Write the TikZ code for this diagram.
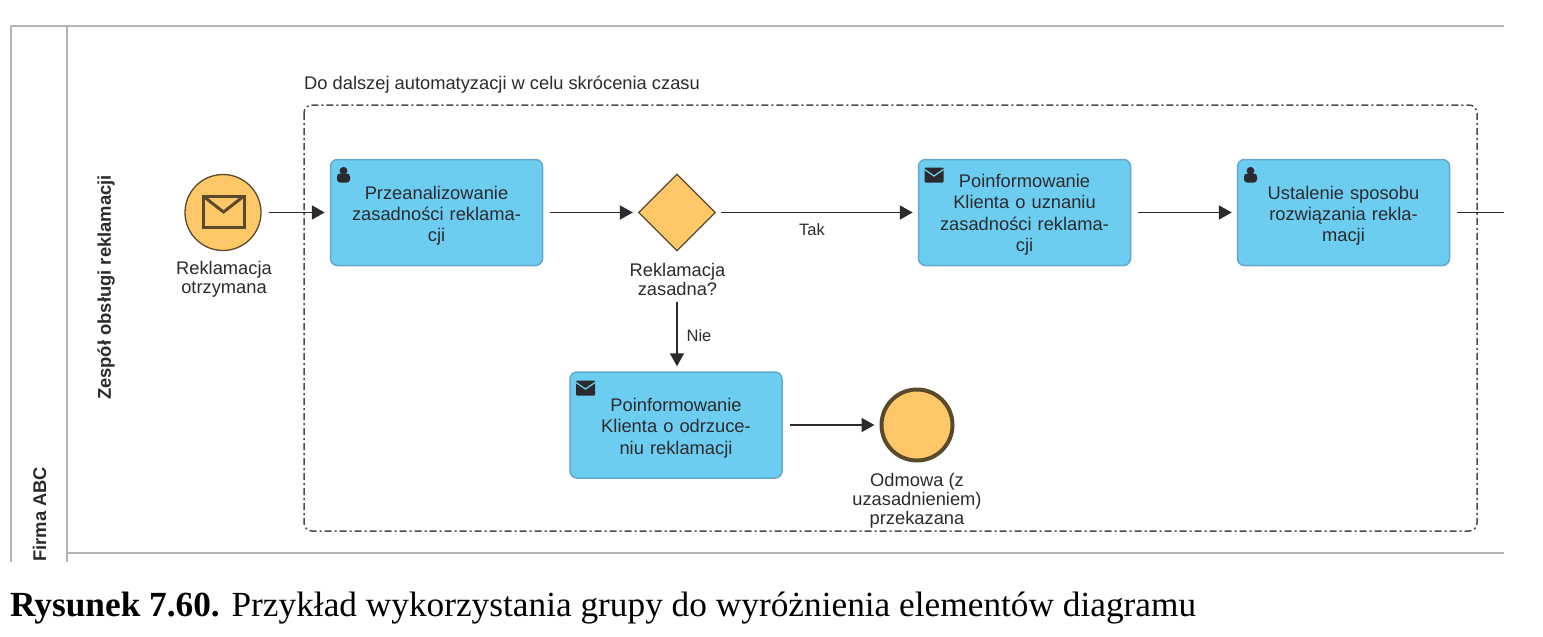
\documentclass[tikz,border=0pt]{standalone}
\usepackage{fontspec}
\setmainfont{Liberation Sans}
\newfontfamily\capfont{Liberation Serif}
\usetikzlibrary{arrows.meta,shapes.geometric}
\definecolor{taskfill}{HTML}{6DCDF0}
\definecolor{taskline}{HTML}{62A8CF}
\definecolor{evfill}{HTML}{FEC868}
\definecolor{evline}{HTML}{5A4A2C}
\definecolor{lane}{HTML}{B4B4B8}
\definecolor{ink}{HTML}{2B2B2E}
\newcommand\tsa{\rule{0pt}{19.5pt}}
\newcommand\tsb{\rule{0pt}{17.5pt}}
\tikzset{
  txt/.style={text=ink,font=\fontsize{18.3}{21.3}\selectfont,align=center,inner sep=0pt},
  lbl/.style={text=ink,font=\fontsize{18.3}{19.2}\selectfont,align=center,inner sep=0pt},
  small/.style={text=ink,font=\fontsize{16.5}{19}\selectfont,inner sep=0pt},
  task/.style={txt,draw=taskline,fill=taskfill,line width=1.5pt,rounded corners=7pt,minimum width=212pt,minimum height=106pt,text width=195pt},
  flow/.style={draw=ink,line width=1.9pt,-{Triangle[length=13pt,width=14pt]},shorten >=5pt,shorten <=7pt,yshift=1pt},
  lanev/.style={draw=lane,line width=2pt},
  grp/.style={draw=ink!85,line width=1.5pt,rounded corners=8pt,dash pattern=on 7pt off 3pt on 2pt off 3pt},
  sw/.style={text=ink,font=\fontsize{18.4}{21}\selectfont\bfseries,rotate=90,inner sep=0pt},
  pics/person/.style={code={
    \fill[ink] (0,-4.2) circle (3.9);
    \fill[ink,rounded corners=3pt] (-6.5,7.5) -- (-6.5,-1.5) -- (6.5,-1.5) -- (6.5,7.5) -- cycle;
  }},
  pics/mail/.style={code={
    \fill[ink,rounded corners=1pt] (-9.5,-7.5) rectangle (9.5,7.5);
    \draw[taskfill,line width=1.3pt] (-9.5,-5.5) -- (0,1) -- (9.5,-5.5);
  }}
}
\begin{document}
\begin{tikzpicture}[x=1pt,y=-1pt]
\useasboundingbox (0,0) rectangle (1543,637);
% pool and lane
\draw[lanev] (11,562) -- (11,26) -- (1504,26);
\draw[lanev] (67,562) -- (67,26);
\draw[lanev] (67,553) -- (1504,553);
\node[sw] (lanelabel) at (106,287.5) {Zespół obsługi reklamacji};
\node[sw,anchor=west] (poollabel) at (39.5,562) {Firma ABC};
% group
\draw[grp] (304,105) rectangle (1477,531);
\node[txt,anchor=west] (grouplabel) at (304,85) {Do dalszej automatyzacji w celu skrócenia czasu};
% elements
\node[circle,draw=evline,fill=evfill,line width=1.3pt,minimum size=76pt,inner sep=0pt] (start) at (223,212.5) {};
\draw[evline,line width=3pt] (203,196) rectangle (244,227);
\draw[evline,line width=3pt] (203,196) -- (223.5,212) -- (244,196);
\node[lbl] (startlabel) at (224,279.5) {Reklamacja\\otrzymana};
\node[task] (t1) at (436.5,212.5) {\tsa Przeanalizowanie\\zasadności reklama-\\cji};
\pic at (343.5,175) {person};
\node[diamond,draw=evline,fill=evfill,line width=1.3pt,minimum width=77pt,minimum height=77pt,inner sep=0pt,aspect=1] (gw) at (677,212.5) {};
\node[lbl] (gwlabel) at (677.5,279.5) {Reklamacja\\zasadna?};
\node[task] (t2) at (1024.5,212.5) {\tsb Poinformowanie\\Klienta o uznaniu\\zasadności reklama-\\cji};
\pic at (934,175) {mail};
\node[task] (t3) at (1343.5,212.5) {\tsa Ustalenie sposobu\\rozwiązania rekla-\\macji};
\pic at (1250.5,175) {person};
\node[task] (t4) at (676,425) {\tsa Poinformowanie\\Klienta o odrzuce-\\niu reklamacji};
\pic at (585.5,388) {mail};
\node[circle,draw=evline,fill=evfill,line width=4pt,minimum size=71pt,inner sep=0pt] (end) at (917,425) {};
\node[lbl] (endlabel) at (917,501) {Odmowa (z\\uzasadnieniem)\\przekazana};
\coordinate (exit) at (1504,212.5);
% flows
\draw[flow] (start.east) -- (t1.west);
\draw[flow] (t1.east) -- (gw.west);
\draw[flow,shorten <=5pt] (gw.east) -- node[small,pos=.475,yshift=-17pt] (tak) {Tak} (t2.west);
\draw[flow] (t2.east) -- (t3.west);
\draw[flow,-,shorten >=0pt] (t3.east) -- (exit);
\draw[flow,yshift=0pt,shorten <=50pt] (gw.south) -- (gw.south |- t4.north);
\node[small] (nie) at (699,335.5) {Nie};
\draw[flow] (t4.east) -- (end.west);
% caption
\node[anchor=base west,inner sep=0pt,text=black,font=\capfont\fontsize{35.3}{38}\selectfont] (caption) at (10,616) {\textbf{Rysunek 7.60.} Przykład wykorzystania grupy do wyróżnienia elementów diagramu};
\end{tikzpicture}
\end{document}
